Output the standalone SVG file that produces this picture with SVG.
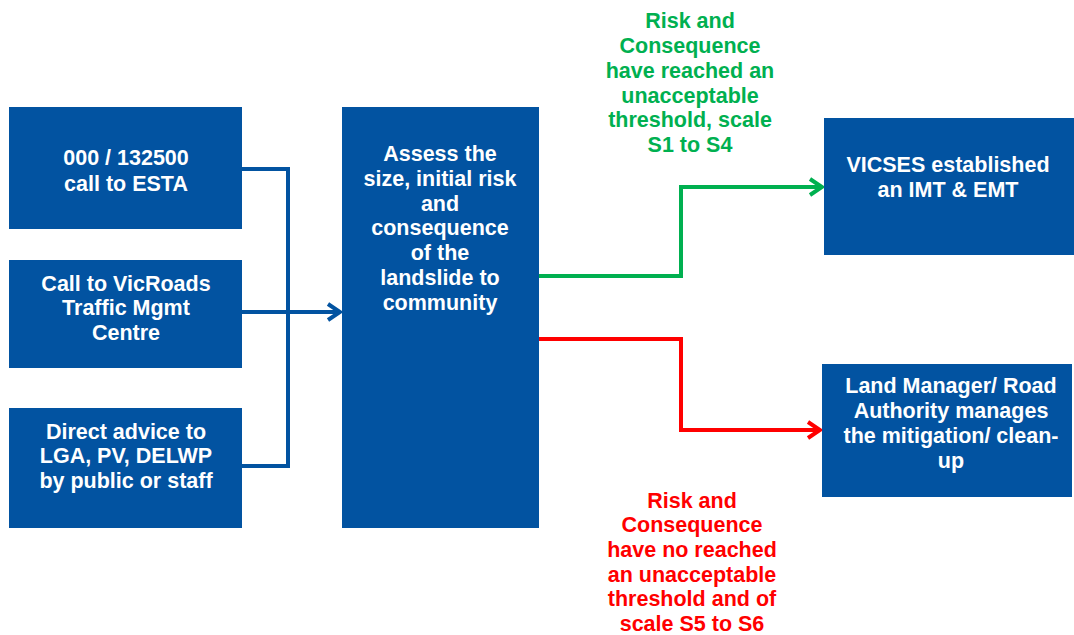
<svg xmlns="http://www.w3.org/2000/svg" width="1074" height="635" viewBox="0 0 1074 635">
<defs>
<style>
.box{fill:#0253A1}
.t{font-family:"Liberation Sans",Arial,sans-serif;font-weight:bold;font-size:21.5px;text-anchor:middle}
.w{fill:#fff}
.g{fill:#00B050}
.r{fill:#FF0000}
.c{fill:none;stroke-width:4;stroke-linejoin:miter}
</style>
<marker id="ab" viewBox="0 0 20 20" refX="18" refY="10" markerWidth="20" markerHeight="20" markerUnits="userSpaceOnUse" orient="auto"><path d="M6,2 L18,10 L6,18" fill="none" stroke="#0253A1" stroke-width="4"/></marker>
<marker id="ag" viewBox="0 0 20 20" refX="18" refY="10" markerWidth="20" markerHeight="20" markerUnits="userSpaceOnUse" orient="auto"><path d="M6,2 L18,10 L6,18" fill="none" stroke="#00B050" stroke-width="4"/></marker>
<marker id="ar" viewBox="0 0 20 20" refX="18" refY="10" markerWidth="20" markerHeight="20" markerUnits="userSpaceOnUse" orient="auto"><path d="M6,2 L18,10 L6,18" fill="none" stroke="#FF0000" stroke-width="4"/></marker>
</defs>
<rect width="1074" height="635" fill="#fff"/>
<g id="connectors">
<path class="c" stroke="#0253A1" d="M242,169 H288 V466 H242"/>
<path class="c" stroke="#0253A1" d="M242,312 H340" marker-end="url(#ab)"/>
<path class="c" stroke="#00B050" d="M539,276 H681 V187 H822" marker-end="url(#ag)"/>
<path class="c" stroke="#FF0000" d="M539,339 H681 V430 H820" marker-end="url(#ar)"/>
</g>
<g id="n1"><rect class="box" x="9" y="107" width="233" height="122"/>
<text class="t w" x="126" y="165">000 / 132500</text><text class="t w" x="126" y="191">call to ESTA</text></g>
<g id="n2"><rect class="box" x="9" y="260" width="233" height="108"/>
<text class="t w" x="126" y="291">Call to VicRoads</text><text class="t w" x="126" y="315">Traffic Mgmt</text><text class="t w" x="126" y="340">Centre</text></g>
<g id="n3"><rect class="box" x="9" y="408" width="233" height="120"/>
<text class="t w" x="126" y="439">Direct advice to</text><text class="t w" x="126" y="463">LGA, PV, DELWP</text><text class="t w" x="126" y="488">by public or staff</text></g>
<g id="n4"><rect class="box" x="342" y="107" width="197" height="421"/>
<text class="t w" x="440" y="161">Assess the</text><text class="t w" x="440" y="186">size, initial risk</text><text class="t w" x="440" y="211">and</text><text class="t w" x="440" y="235">consequence</text><text class="t w" x="440" y="260">of the</text><text class="t w" x="440" y="285">landslide to</text><text class="t w" x="440" y="310">community</text></g>
<g id="n5"><rect class="box" x="824" y="118" width="250" height="137"/>
<text class="t w" x="948" y="172">VICSES established</text><text class="t w" x="948" y="197">an IMT &amp; EMT</text></g>
<g id="n6"><rect class="box" x="822" y="364" width="250" height="133"/>
<text class="t w" x="951" y="393">Land Manager/ Road</text><text class="t w" x="951" y="418">Authority manages</text><text class="t w" x="951" y="443">the mitigation/ clean-</text><text class="t w" x="951" y="468">up</text></g>
<g id="lg">
<text class="t g" x="690" y="28">Risk and</text><text class="t g" x="690" y="53">Consequence</text><text class="t g" x="690" y="78">have reached an</text><text class="t g" x="690" y="103">unacceptable</text><text class="t g" x="690" y="127">threshold, scale</text><text class="t g" x="690" y="152">S1 to S4</text></g>
<g id="lr">
<text class="t r" x="692" y="508">Risk and</text><text class="t r" x="692" y="532">Consequence</text><text class="t r" x="692" y="557">have no reached</text><text class="t r" x="692" y="582">an unacceptable</text><text class="t r" x="692" y="606">threshold and of</text><text class="t r" x="692" y="631">scale S5 to S6</text></g>
</svg>
